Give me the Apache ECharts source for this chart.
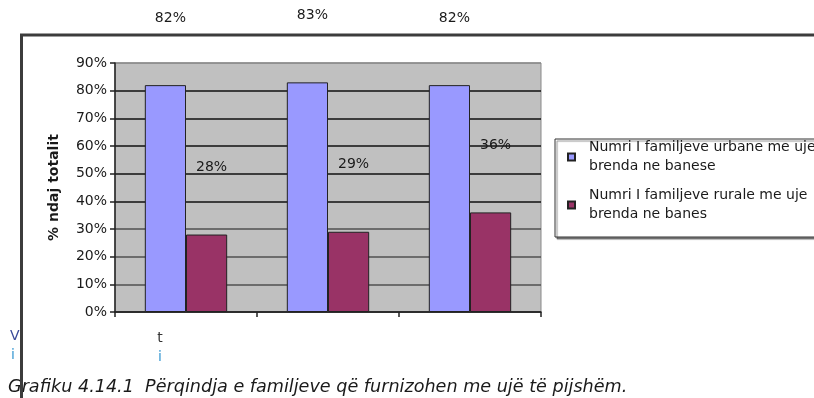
<!DOCTYPE html>
<html>
<head>
<meta charset="utf-8">
<script src="https://cdn.jsdelivr.net/npm/echarts@6/dist/echarts.min.js"></script>
<style>html,body{margin:0;padding:0;background:#fff}#c{width:814px;height:398px}</style>
</head>
<body>
<div id="c"></div>
<script>
var categories = ["t\ni", "", ""];
var urbanName = "Numri I familjeve urbane me uje\nbrenda ne banese";
var ruralName = "Numri I familjeve rurale me uje\nbrenda ne banes";
var urbanValues = [82, 83, 82];
var ruralValues = [28, 29, 36];
var yTicks = [0, 10, 20, 30, 40, 50, 60, 70, 80, 90];
var yTitle = "% ndaj totalit";
var caption = "Grafiku 4.14.1  Përqindja e familjeve që furnizohen me ujë të pijshëm.";

var FONT = "DejaVu Sans";
var chart = echarts.init(document.getElementById('c'), null, {renderer: 'canvas'});
var barLabel = {
  show: true, position: 'top', offset: [5, -55],
  formatter: '{c}%', fontFamily: FONT, fontSize: 14, color: '#1a1a1a'
};
chart.setOption({
  animation: false,
  textStyle: {fontFamily: FONT},
  grid: {left: 115, right: 273, top: 63, bottom: 86, show: true,
         backgroundColor: '#c0c0c0', borderColor: '#8a8a8a', borderWidth: 1},
  legend: {
    orient: 'vertical', left: 562, top: 133, itemWidth: 7, itemHeight: 7,
    itemGap: 10, icon: 'rect',
    textStyle: {fontFamily: FONT, fontSize: 14, lineHeight: 19, color: '#1a1a1a', padding: [0, 0, 0, 9]},
    data: [urbanName, ruralName]
  },
  xAxis: {
    type: 'category', data: categories,
    axisLine: {lineStyle: {color: '#222', width: 1.5}},
    axisTick: {show: true, length: 5, lineStyle: {color: '#222', width: 1.5}},
    axisLabel: {
      interval: 0, margin: 17, padding: [0, 52, 0, 0],
      formatter: function (v) {
        if (!v) return '';
        var p = v.split('\n');
        return '{t|' + p[0] + '}\n{i|' + p[1] + '}';
      },
      rich: {
        t: {fontFamily: FONT, fontSize: 14, lineHeight: 19, color: '#333'},
        i: {fontFamily: FONT, fontSize: 14, lineHeight: 19, color: '#3d9bd3'}
      }
    }
  },
  yAxis: {
    type: 'value', min: 0, max: 90, interval: 10,
    name: yTitle, nameLocation: 'middle', nameRotate: 90, nameGap: 54,
    nameTextStyle: {fontFamily: FONT, fontSize: 14, fontWeight: 'bold', color: '#1a1a1a'},
    axisLine: {show: true, lineStyle: {color: '#222', width: 1.5}},
    axisTick: {show: true, length: 5, lineStyle: {color: '#222', width: 1.5}},
    axisLabel: {margin: 8, fontFamily: FONT, fontSize: 14, color: '#1a1a1a',
      formatter: function (v) { return yTicks.indexOf(v) >= 0 ? v + '%' : ''; }},
    splitLine: {show: true, lineStyle: {width: 1.5,
      color: ['#333', '#505050', '#505050', '#505050', '#111', '#111', '#111', '#111', '#111', '#8a8a8a']}}
  },
  series: [
    {name: urbanName, type: 'bar', data: urbanValues, barGap: '0%', barCategoryGap: '42%',
     itemStyle: {color: '#9999ff', borderColor: '#222', borderWidth: 1}, label: barLabel},
    {name: ruralName, type: 'bar', data: ruralValues,
     itemStyle: {color: '#993366', borderColor: '#222', borderWidth: 1}, label: barLabel}
  ],
  graphic: [
    {type: 'rect', z: -1, shape: {x: 555, y: 139, width: 300, height: 98},
     style: {fill: '#fff', stroke: '#333', lineWidth: 1, shadowColor: 'rgba(0,0,0,0.45)', shadowOffsetX: 2, shadowOffsetY: 2, shadowBlur: 1}},
    {type: 'text', left: 8, top: 378, z: 5,
     style: {text: caption, fontFamily: FONT, fontStyle: 'italic', fontSize: 17.6, fill: '#1a1a1a'}},
    {type: 'text', left: 10, top: 329, z: 5,
     style: {text: 'V', fontFamily: FONT, fontSize: 14, fill: '#3a4a9a'}},
    {type: 'text', left: 11, top: 348, z: 5,
     style: {text: 'i', fontFamily: FONT, fontSize: 14, fill: '#3d9bd3'}},
    {type: 'polyline', z: 10, shape: {points: [[21.5, 398], [21.5, 35], [814, 35]]},
     style: {stroke: '#3c3c3c', lineWidth: 3, fill: null}}
  ]
});
</script>
</body>
</html>
